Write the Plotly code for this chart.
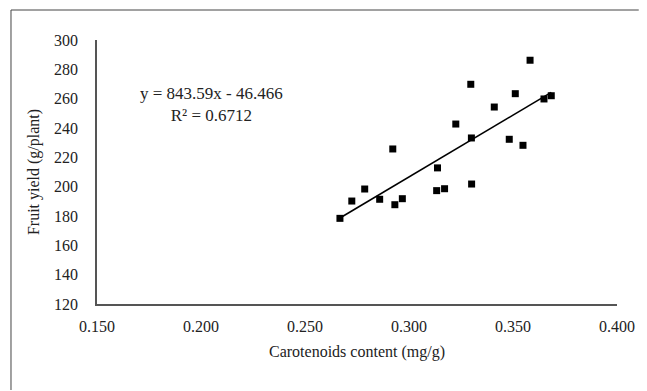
import plotly.graph_objects as go

# Data
carotenoids = [0.2668, 0.2725, 0.2787, 0.2859, 0.2922, 0.2932, 0.2968, 0.3137, 0.3133,
               0.3171, 0.3225, 0.3297, 0.3300, 0.3301, 0.3410, 0.3482, 0.3511, 0.3548,
               0.3582, 0.3649, 0.3684]
fruit_yield = [178.4, 190.2, 198.4, 191.4, 225.7, 187.7, 191.8, 212.8, 197.3,
               198.6, 242.7, 269.8, 233.2, 201.8, 254.3, 232.3, 263.4, 228.2,
               286.2, 259.8, 262.0]
slope = 843.59
intercept = -46.466
r_squared = 0.6712
x_ticks = [0.15, 0.20, 0.25, 0.30, 0.35, 0.40]
y_ticks = [120, 140, 160, 180, 200, 220, 240, 260, 280, 300]

font_family = "Liberation Serif, Times New Roman, serif"

x_fit = [min(carotenoids), max(carotenoids)]
y_fit = [slope * v + intercept for v in x_fit]

fig = go.Figure()
fig.add_trace(go.Scatter(x=x_fit, y=y_fit, mode="lines",
                         line=dict(color="black", width=1.6), hoverinfo="skip",
                         showlegend=False))
fig.add_trace(go.Scatter(x=carotenoids, y=fruit_yield, mode="markers",
                         marker=dict(symbol="square", size=7, color="black"),
                         showlegend=False))

eq_text = f"y = {slope}x - {abs(intercept)}<br>R² = {r_squared}"
fig.add_annotation(x=0.205, y=255.7, xref="x", yref="y", text=eq_text,
                   showarrow=False, align="center",
                   font=dict(family=font_family, size=17, color="#222"))

# outer chart border: only left and top edges are inside the canvas
bx0 = -87 / 526
bx1 = (645 - 97) / 526
by0 = (304 - 390) / 264
by1 = (304 - 10) / 264
fig.add_shape(type="line", xref="paper", yref="paper",
              x0=bx0, x1=bx0, y0=by0, y1=by1,
              line=dict(color="#444", width=1), layer="below")
fig.add_shape(type="line", xref="paper", yref="paper",
              x0=bx0, x1=bx1, y0=by1, y1=by1,
              line=dict(color="#444", width=1), layer="below")

axis_common = dict(showgrid=False, zeroline=False, showline=True,
                   linecolor="#555", linewidth=1.5, ticks="",
                   tickfont=dict(family=font_family, size=16, color="#222"))

fig.update_xaxes(range=[0.15, 0.40], tickvals=x_ticks,
                 ticktext=[f"{v:.3f}" for v in x_ticks], ticklabelstandoff=7,
                 title=dict(text="Carotenoids content (mg/g)", standoff=12,
                            font=dict(family=font_family, size=16, color="#222")),
                 **axis_common)
fig.update_yaxes(range=[120, 300], tickvals=y_ticks, ticklabelstandoff=14,
                 title=dict(text="Fruit yield (g/plant)", standoff=10,
                            font=dict(family=font_family, size=16, color="#222")),
                 **axis_common)

fig.update_layout(width=647, height=391,
                  margin=dict(l=97, r=24, t=40, b=87),
                  paper_bgcolor="white", plot_bgcolor="white")

fig.write_html("out.html", config={"displayModeBar": False})
